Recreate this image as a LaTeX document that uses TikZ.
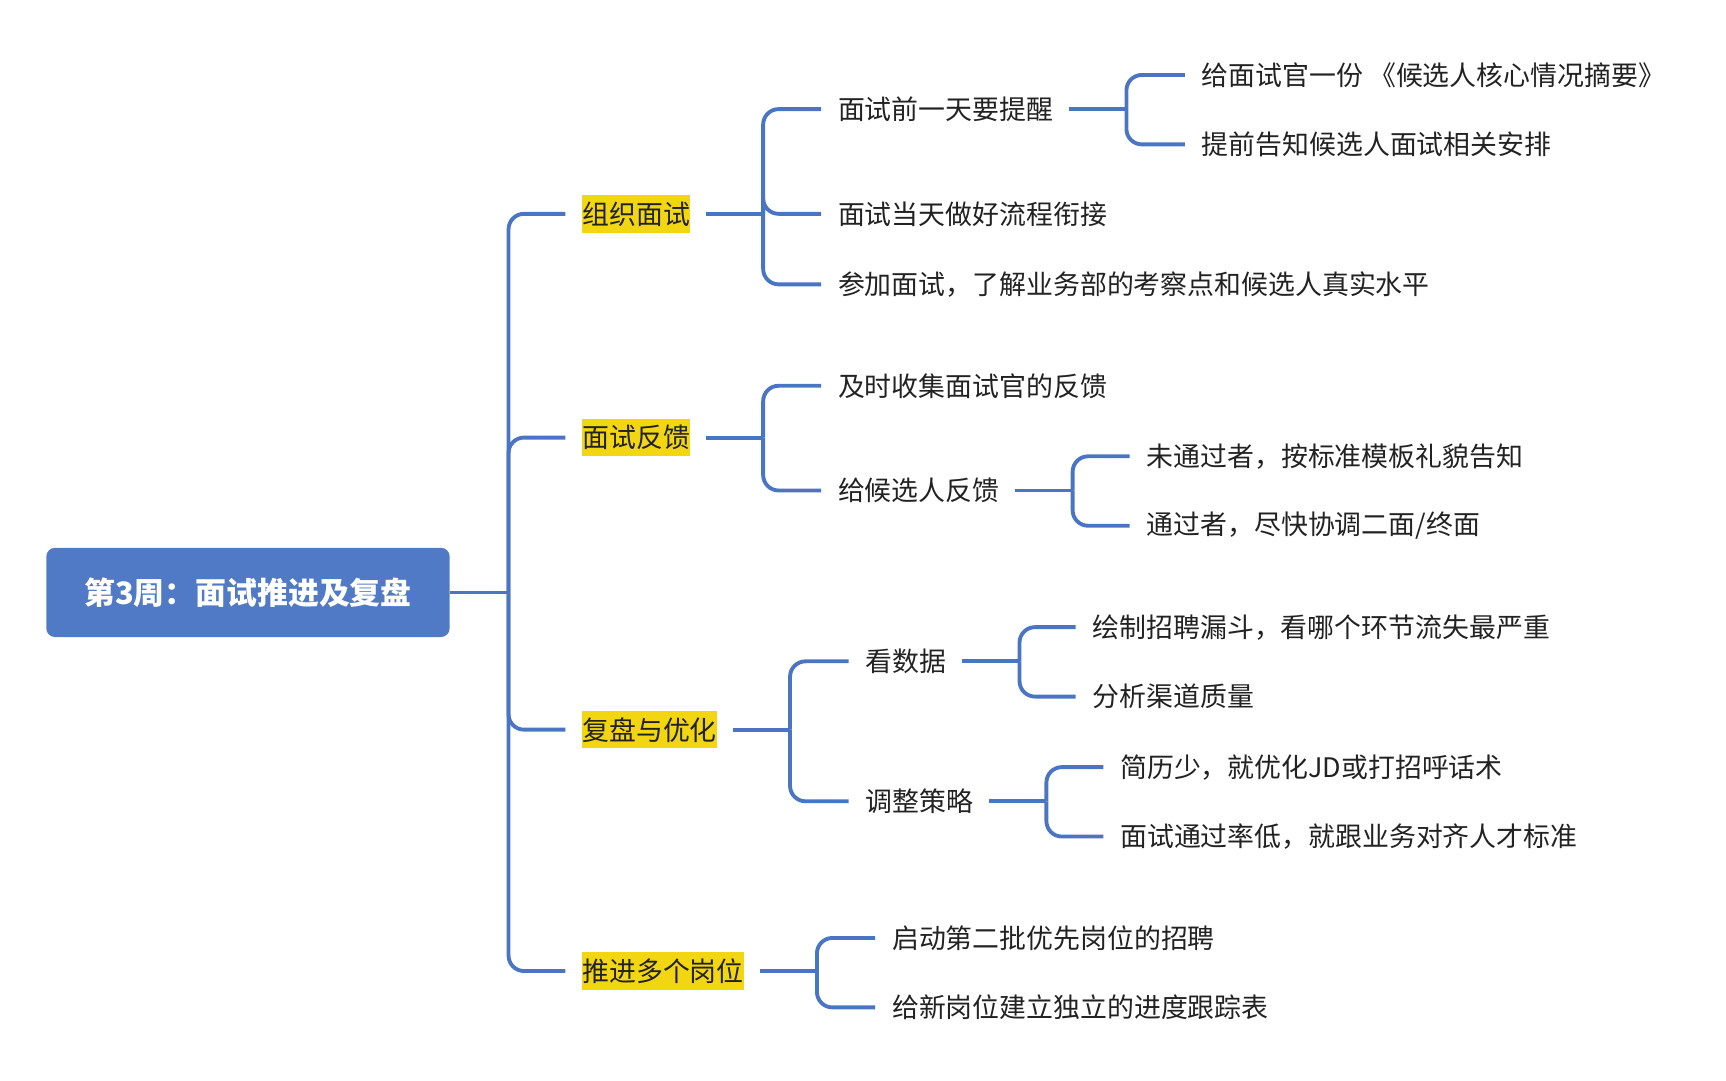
\documentclass[tikz,border=0pt]{standalone}
\usepackage{fontspec}
\newfontfamily\cjk{Noto Sans CJK SC}
\usetikzlibrary{calc}
\definecolor{linec}{RGB}{74,116,196}
\definecolor{rootc}{RGB}{80,121,198}
\definecolor{hl}{RGB}{242,214,18}
\definecolor{txt}{RGB}{34,34,34}
\begin{document}
\begin{tikzpicture}[x=0.5pt,y=-0.5pt,
  every node/.style={font=\cjk\fontsize{12.2pt}{14pt}\selectfont, text=txt, inner sep=0pt, anchor=west},
  rootbox/.style={fill=rootc, rounded corners=4pt, minimum width=183pt, minimum height=40.5pt,
    font=\cjk\bfseries\fontsize{14pt}{17pt}\selectfont, text=white, anchor=center},
  hlbox/.style={fill=hl, minimum height=17pt},
  conn/.style={draw=linec, line width=1.75pt, rounded corners=7pt},
  stub/.style={draw=linec, line width=1.75pt},
]
\useasboundingbox (0,0) rectangle (1566,980);

\node[rootbox] (root) at (225,537.5) {第3周：面试推进及复盘};

\node[hlbox] (a1) at (528,194) {组织面试};
\node[hlbox] (a2) at (528,397) {面试反馈};
\node[hlbox] (a3) at (528,662) {复盘与优化};
\node[hlbox] (a4) at (528,881) {推进多个岗位};

\node (b11) at (760,99) {面试前一天要提醒};
\node (b12) at (760,194) {面试当天做好流程衔接};
\node (b13) at (760,258) {参加面试，了解业务部的考察点和候选人真实水平};
\node (c111) at (1090,68) {给面试官一份 《候选人核心情况摘要》};
\node (c112) at (1090,131) {提前告知候选人面试相关安排};

\node (b21) at (760,350) {及时收集面试官的反馈};
\node (b22) at (760,445) {给候选人反馈};
\node (c221) at (1040,414) {未通过者，按标准模板礼貌告知};
\node (c222) at (1040,477) {通过者，尽快协调二面/终面};

\node (b31) at (785,600) {看数据};
\node (b32) at (785,727) {调整策略};
\node (c311) at (991,569) {绘制招聘漏斗，看哪个环节流失最严重};
\node (c312) at (991,632) {分析渠道质量};
\node (c321) at (1016,696) {简历少，就优化JD或打招呼话术};
\node (c322) at (1016,759) {面试通过率低，就跟业务对齐人才标准};

\node (b41) at (809,851) {启动第二批优先岗位的招聘};
\node (b42) at (809,914) {给新岗位建立独立的进度跟踪表};

% root connectors
\draw[stub] (root.east) -- ++(53,0) coordinate (jr);
\foreach \c in {a1,a2,a3,a4}{
  \draw[conn] (jr) |- ($(\c.west)+(-15,0)$);
}
% stubs
\foreach \p in {a1,a2,a3,a4,b11,b22,b31,b32}{
  \draw[stub] ($(\p.east)+(14,0)$) -- ++(52,0);
}
% branches
\foreach \p/\c in {a1/b11,a1/b12,a1/b13,b11/c111,b11/c112,
                   a2/b21,a2/b22,b22/c221,b22/c222,
                   a3/b31,a3/b32,b31/c311,b31/c312,b32/c321,b32/c322,
                   a4/b41,a4/b42}{
  \draw[conn] ($(\p.east)+(66,0)$) |- ($(\c.west)+(-15,0)$);
}
\end{tikzpicture}
\end{document}
